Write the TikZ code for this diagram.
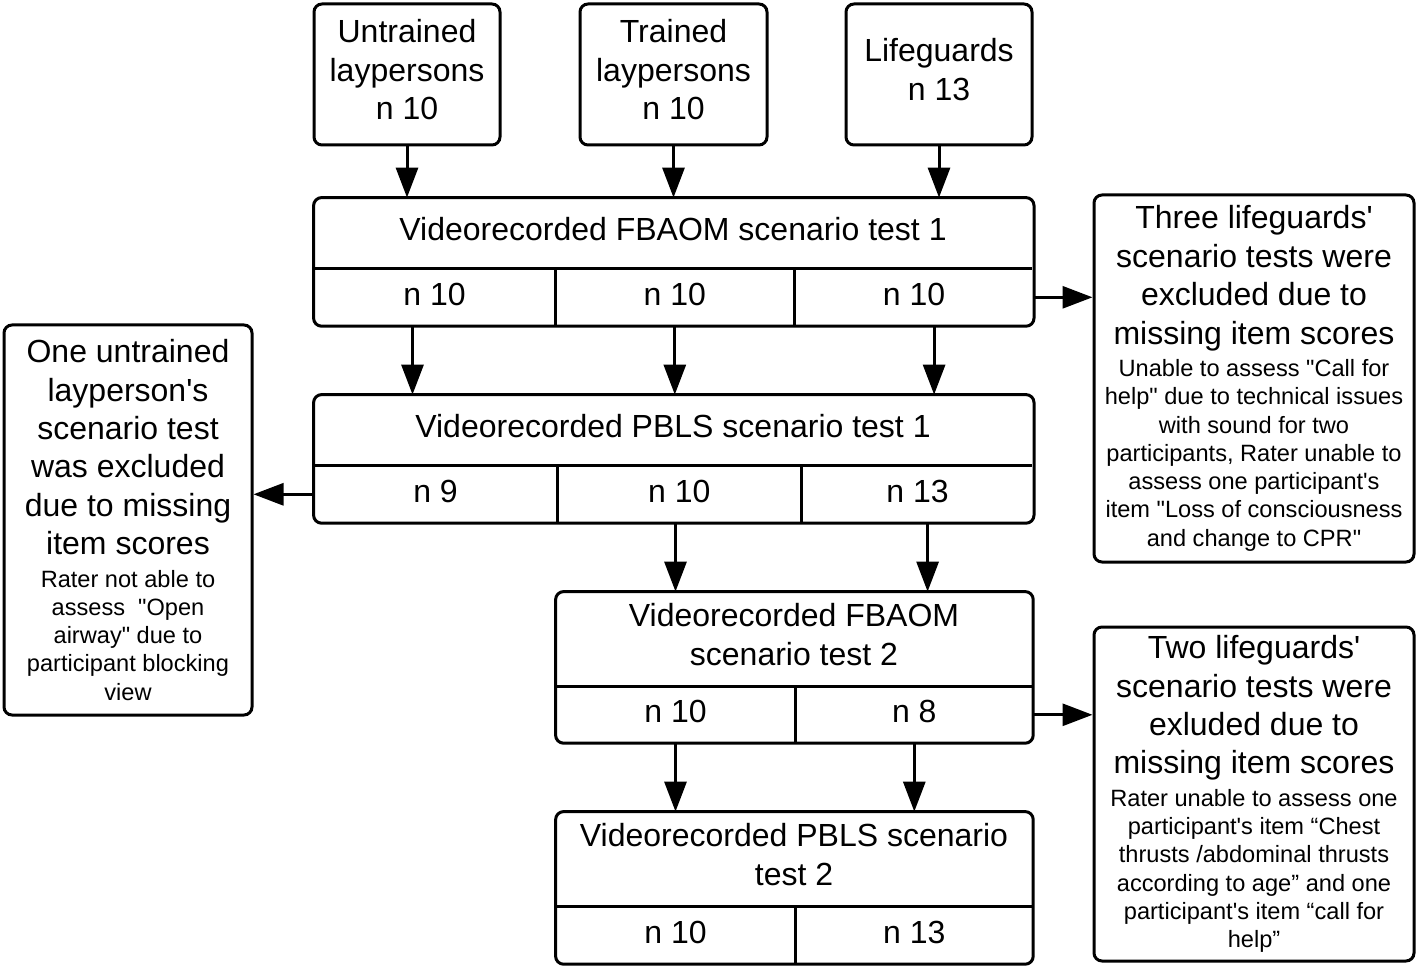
\documentclass[tikz,border=0pt]{standalone}
\usepackage{fontspec}
\newfontfamily\arialish{Liberation Sans}
\newcommand\bigtxt{\fontsize{16}{19.2}\selectfont}
\newcommand\smalltxt{\fontsize{11.8}{14.15}\selectfont}
\newcommand\notetext[3]{\parbox{#1}{\centering\bigtxt #2\par\vspace{2pt}\smalltxt #3\par}}
\usetikzlibrary{arrows.meta,positioning}

\begin{document}
\begin{tikzpicture}[x=0.5pt,y=-0.5pt,font=\arialish\bigtxt,
  box/.style={rectangle,draw,line width=1.5pt,rounded corners=4pt,inner sep=0pt,align=center},
  group/.style={box,minimum height=70.5pt,text depth=5pt},
  note/.style={box,minimum width=#1},
  head/.style={rectangle,inner sep=0pt,minimum height=35pt,text depth=4.5pt,align=center},
  cell/.style={rectangle,inner sep=0pt,minimum height=28.5pt,text depth=3pt},
  frame/.style={line width=1.5pt,rounded corners=4pt},
  split/.style={line width=1.3pt},
  arr/.style={-{Triangle[length=15pt,width=11pt]},line width=1.5pt}]
  \useasboundingbox (0,0) rectangle (1418,967);

  % groups
  \node[group,minimum width=93pt] (ut) at (407,74.5) {Untrained\\laypersons\\n 10};
  \node[group,minimum width=93.5pt] (tr) at (673.5,74.5) {Trained\\laypersons\\n 10};
  \node[group,minimum width=93pt] (lg) at (939,74.5) {Lifeguards\\n 13};

  % FBAOM test 1
  \node[head,minimum width=359pt] (f1) at (673,233) {Videorecorded FBAOM scenario test 1};
  \node[cell,minimum width=120.5pt,below right=0pt] (f1a) at (f1.south west) {n 10};
  \node[cell,minimum width=119pt,right=0pt] (f1b) at (f1a.east) {n 10};
  \node[cell,minimum width=119.5pt,right=0pt] (f1c) at (f1b.east) {n 10};
  \draw[frame] (f1.north west) rectangle (f1c.south east);
  \draw[split] (f1.south west) -- (f1.south east) (f1a.north east) -- (f1a.south east) (f1b.north east) -- (f1b.south east);

  % PBLS test 1
  \node[head,minimum width=359pt] (p1) at (673,430) {Videorecorded PBLS scenario test 1};
  \node[cell,minimum width=121.5pt,below right=0pt] (p1a) at (p1.south west) {n 9};
  \node[cell,minimum width=121.5pt,right=0pt] (p1b) at (p1a.east) {n 10};
  \node[cell,minimum width=116pt,right=0pt] (p1c) at (p1b.east) {n 13};
  \draw[frame] (p1.north west) rectangle (p1c.south east);
  \draw[split] (p1.south west) -- (p1.south east) (p1a.north east) -- (p1a.south east) (p1b.north east) -- (p1b.south east);

  % FBAOM test 2
  \node[head,minimum width=238pt,minimum height=47pt] (f2) at (794,639) {Videorecorded FBAOM\\scenario test 2};
  \node[cell,minimum width=119.5pt,minimum height=28pt,below right=0pt] (f2a) at (f2.south west) {n 10};
  \node[cell,minimum width=118.5pt,minimum height=28pt,right=0pt] (f2b) at (f2a.east) {n 8};
  \draw[frame] (f2.north west) rectangle (f2b.south east);
  \draw[split] (f2.south west) -- (f2.south east) (f2a.north east) -- (f2a.south east);

  % PBLS test 2
  \node[head,minimum width=238pt,minimum height=47pt] (p2) at (794,859) {Videorecorded PBLS scenario\\test 2};
  \node[cell,minimum width=119.5pt,below right=0pt] (p2a) at (p2.south west) {n 10};
  \node[cell,minimum width=118.5pt,right=0pt] (p2b) at (p2a.east) {n 13};
  \draw[frame] (p2.north west) rectangle (p2b.south east);
  \draw[split] (p2.south west) -- (p2.south east) (p2a.north east) -- (p2a.south east);

  % exclusions
  \node[note=124pt,minimum height=195pt] (lx) at (128,520)
    {\notetext{120pt}{One untrained\\layperson's\\scenario test\\was excluded\\due to missing\\item scores}
     {Rater not able to\\assess\ \ "Open\\airway" due to\\participant blocking\\view}};
  \node[note=160pt,minimum height=183.5pt] (rx1) at (1254,378.5)
    {\notetext{156pt}{Three lifeguards'\\scenario tests were\\excluded due to\\missing item scores}
     {Unable to assess "Call for\\help" due to technical issues\\with sound for two\\participants, Rater unable to\\assess one participant's\\item "Loss of consciousness\\and change to CPR"}};
  \node[note=160pt,minimum height=167pt] (rx2) at (1254,794)
    {\notetext{156pt}{Two lifeguards'\\scenario tests were\\exluded due to\\missing item scores}
     {Rater unable to assess one\\participant's item “Chest\\thrusts /abdominal thrusts\\according to age” and one\\participant's item “call for\\help”}};

  \draw[arr] (ut.south) -- (ut.south |- f1.north);
  \draw[arr] (tr.south) -- (tr.south |- f1.north);
  \draw[arr] (lg.south) -- (lg.south |- f1.north);
  \draw[arr] ([xshift=-11pt]f1a.south) -- ([xshift=-11pt]f1a.south |- p1.north);
  \draw[arr] (f1b.south) -- (f1b.south |- p1.north);
  \draw[arr] ([xshift=10pt]f1c.south) -- ([xshift=10pt]f1c.south |- p1.north);
  \draw[arr] (f1c.east) -- (f1c.east -| rx1.west);
  \draw[arr] (p1a.west) -- (p1a.west -| lx.east);
  \draw[arr] (p1b.south -| f2a) -- (f2a |- f2.north);
  \draw[arr] ([xshift=5pt]p1c.south) -- ([xshift=5pt]p1c.south |- f2.north);
  \draw[arr] (f2a.south) -- (f2a.south |- p2.north);
  \draw[arr] (f2b.south) -- (f2b.south |- p2.north);
  \draw[arr] (f2b.east) -- (f2b.east -| rx2.west);
\end{tikzpicture}
\end{document}
